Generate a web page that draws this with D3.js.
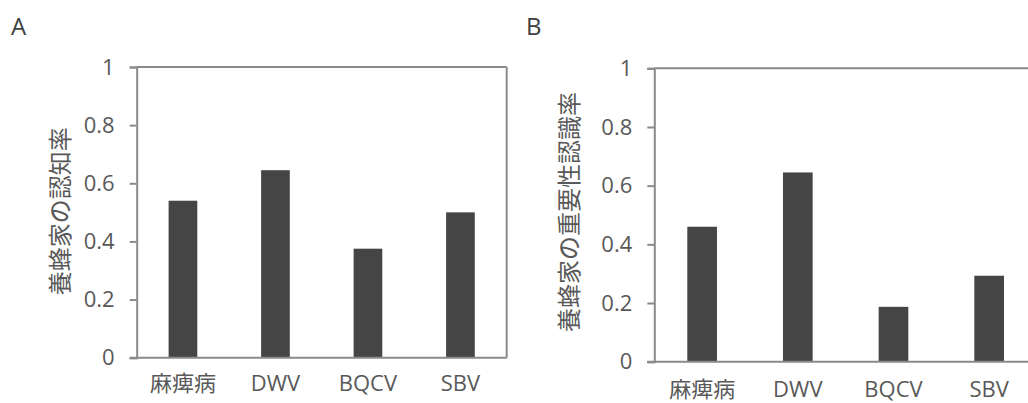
<!DOCTYPE html>
<html>
<head>
<meta charset="utf-8">
<script src="https://cdn.jsdelivr.net/npm/d3@7"></script>
<style>
	body { margin: 0; background: #fff; }
	svg { display: block; font-family: "Open Sans", "Noto Sans CJK JP", sans-serif; }
</style>
</head>
<body>
<svg id="chart" width="1028" height="403"></svg>
<script>
// data
const categories = ["麻痺病", "DWV", "BQCV", "SBV"];
const awarenessA = [0.54, 0.645, 0.375, 0.5];
const importanceB = [0.46, 0.645, 0.187, 0.293];
const yTicks = [0, 0.2, 0.4, 0.6, 0.8, 1];
const panelLetters = ["A", "B"];
const yTitles = ["養蜂家の認知率", "養蜂家の重要性認識率"];

const svg = d3.select("#chart");

const lineColor = "#8a8a8a";
const textColor = "#595959";
const barColor = "#454545";
const labelFont = "'Open Sans', 'Noto Sans CJK JP', sans-serif";

function drawPanel(opt){
	const g = svg.append("g");

	const x = d3.scaleBand()
		.domain(categories)
		.range([opt.left, opt.right])
		.padding(0);

	const y = d3.scaleLinear()
		.domain([0, 1])
		.range([opt.bottom, opt.top]);

	const barW = x.bandwidth() * 0.31;

	// bars
	g.selectAll("rect.bar")
		.data(opt.values)
		.enter()
		.append("rect")
			.attr("class", "bar")
			.attr("x", (d, i) => x(categories[i]) + (x.bandwidth() - barW) / 2)
			.attr("y", d => y(d))
			.attr("width", barW)
			.attr("height", d => y(0) - y(d))
			.attr("fill", barColor);

	// top and right frame
	g.append("line")
		.attr("x1", opt.left).attr("x2", opt.right)
		.attr("y1", opt.top).attr("y2", opt.top)
		.attr("stroke", lineColor).attr("stroke-width", 2);
	g.append("line")
		.attr("x1", opt.right).attr("x2", opt.right)
		.attr("y1", opt.top).attr("y2", opt.bottom)
		.attr("stroke", lineColor).attr("stroke-width", 2);

	// y axis
	const yAxis = g.append("g")
		.attr("transform", `translate(${opt.left},0)`)
		.call(d3.axisLeft(y).tickValues(yTicks).tickSize(7).tickPadding(15).tickFormat(d3.format("~g")));
	yAxis.select(".domain").attr("stroke", lineColor).attr("stroke-width", 2);
	yAxis.selectAll(".tick line").attr("stroke", lineColor).attr("stroke-width", 2);
	yAxis.selectAll(".tick text")
		.attr("fill", textColor)
		.style("font-size", "22px")
		.style("font-family", labelFont);

	// x axis
	const xAxis = g.append("g")
		.attr("transform", `translate(0,${opt.bottom})`)
		.call(d3.axisBottom(x).tickSize(0).tickPadding(opt.xPad));
	xAxis.select(".domain").attr("stroke", lineColor).attr("stroke-width", 2)
		.attr("d", `M${opt.left - 7},0H${opt.right}`);
	xAxis.selectAll(".tick text")
		.attr("fill", textColor)
		.style("font-size", "22px")
		.style("font-family", labelFont);

	// y title
	g.append("text")
		.attr("transform", `translate(${opt.titleX},${(opt.top + opt.bottom) / 2 + opt.titleDy}) rotate(-90)`)
		.attr("text-anchor", "middle")
		.attr("dominant-baseline", "central")
		.attr("fill", textColor)
		.style("font-size", "24px")
		.style("font-family", "'Noto Sans CJK JP', sans-serif")
		.text(opt.title);

	// panel letter
	g.append("text")
		.attr("x", opt.letterX)
		.attr("y", 35)
		.attr("fill", "#404040")
		.style("font-size", "24px")
		.style("font-family", labelFont)
		.text(opt.letter);
}

drawPanel({
	left: 136.7, right: 506.7, top: 67, bottom: 357.7,
	values: awarenessA, title: yTitles[0], titleX: 58, titleDy: -1,
	letter: panelLetters[0], letterX: 11, xPad: 18
});

drawPanel({
	left: 654.3, right: 1037, top: 68.3, bottom: 361.7,
	values: importanceB, title: yTitles[1], titleX: 567, titleDy: -3,
	letter: panelLetters[1], letterX: 526, xPad: 20
});
</script>
</body>
</html>
